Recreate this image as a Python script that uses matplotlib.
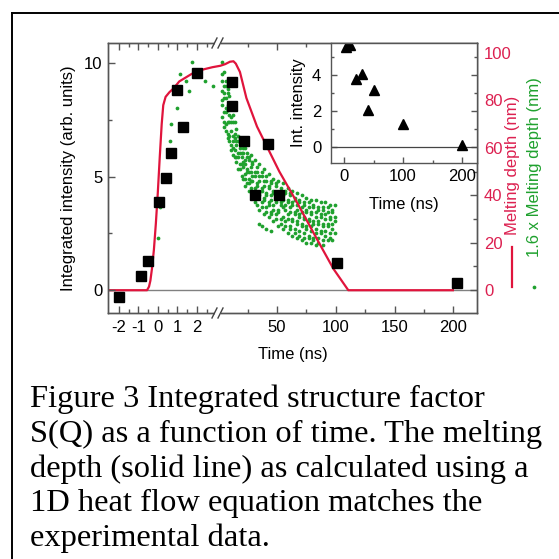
import numpy as np
import matplotlib
matplotlib.use("Agg")
import matplotlib.pyplot as plt
from matplotlib.lines import Line2D
from matplotlib.patches import Rectangle

plt.rcParams['font.family'] = ['Liberation Sans', 'DejaVu Sans']

# ---------------- data ----------------
sq_time = [-2.0, -0.85, -0.5, 0.05, 0.4, 0.7, 1.0, 1.3, 2.0, 12, 12, 22, 31, 42, 52, 101, 203]
sq_int = [-0.28, 0.63, 1.29, 3.87, 4.94, 6.04, 8.82, 7.18, 9.55, 9.18, 8.11, 6.58, 4.21, 6.43, 4.21, 1.18, 0.34]

melt_time = [-2.55, -0.55, -0.45, -0.38, -0.3, -0.2, -0.1, 0.0, 0.1, 0.2, 0.28, 0.4, 0.6, 0.8,
             1.1, 1.4, 1.7, 2.0, 2.4, 2.8, 3.2, 6, 10, 13, 15, 18.5, 24, 33, 41, 52, 67, 84, 98, 110.6, 199.5]
melt_depth = [0, 0, 1.5, 4, 9, 17, 28, 41, 56, 70, 78, 81.5, 83.5, 85,
              88, 89.5, 91, 92.3, 93.2, 94, 94.6, 95.3, 96.3, 96.5, 95.5, 92, 81, 69, 61, 50, 37, 21.5, 9, 0, 0]

green_left_t = [0.0, 0.1, 0.65, 0.7, 1.0, 1.13, 1.47, 1.6, 1.75, 2.4, 2.85]
green_left_v = [22, 35, 63, 70, 77, 91, 88, 84, 96, 88, 86]

green_cols_t = [3.5, 5, 6.5, 8, 9.5, 11, 12.5, 14, 15.5, 17, 18.5, 20, 21.5, 23, 24.5, 26, 27.5, 29,
                31, 33, 35, 37, 39, 41, 43, 45, 47, 49, 51, 53, 55, 57, 59, 61, 63, 65, 67, 69,
                71, 73, 75, 77, 79, 81, 83, 85, 87, 89, 91, 93, 95, 97, 99]
green_cols_v = [
    [96, 91, 88, 84, 80, 78, 73],
    [92, 86, 83, 81, 75, 71, 69],
    [88, 86, 81, 77, 75, 70, 67],
    [85, 83, 78, 76, 71, 66, 64],
    [82, 77, 74, 71, 65, 63],
    [78, 73, 71, 67, 61, 59],
    [74, 71, 65, 63, 60, 57],
    [71, 66, 64, 59, 56],
    [68, 63, 61, 56, 54],
    [65, 63, 58, 56, 51],
    [64, 60, 58, 53, 51],
    [63, 58, 56, 53, 48],
    [60, 58, 54, 52, 47],
    [60, 55, 53, 49, 47, 44],
    [58, 56, 51, 50, 45],
    [56, 55, 50, 47, 45, 42],
    [57, 52, 50, 46, 43],
    [54, 53, 48, 46, 41, 39],
    [55, 50, 48, 43, 42, 37],
    [52, 50, 45, 44, 39, 36],
    [53, 48, 46, 41, 40, 34, 28],
    [50, 48, 43, 42, 37, 35, 27],
    [51, 46, 44, 39, 38, 32],
    [48, 46, 41, 40, 35, 33, 26],
    [49, 44, 43, 37, 36, 31],
    [46, 45, 40, 38, 33, 32, 25],
    [47, 42, 41, 36, 34, 29],
    [45, 44, 38, 37, 32, 30],
    [46, 41, 40, 34, 33, 27],
    [43, 42, 37, 36, 30, 28],
    [45, 40, 38, 35, 31, 26],
    [42, 41, 36, 34, 29, 27],
    [43, 38, 37, 32, 30, 24],
    [41, 40, 35, 33, 27, 26],
    [42, 37, 36, 30, 29, 23],
    [39, 38, 33, 32, 26, 24],
    [41, 36, 34, 29, 28, 22],
    [38, 37, 32, 31, 25, 23],
    [40, 35, 33, 28, 27, 21],
    [37, 36, 31, 30, 24, 22],
    [39, 34, 33, 27, 26, 20],
    [37, 35, 30, 29, 23, 22],
    [38, 33, 32, 27, 25, 20],
    [36, 35, 29, 28, 22, 21],
    [38, 33, 31, 26, 24, 19],
    [35, 34, 29, 28, 22, 20],
    [37, 32, 31, 25, 24],
    [35, 34, 28, 27, 21, 19],
    [37, 32, 30, 25, 23],
    [35, 33, 28, 27, 21],
    [36, 31, 30, 24, 22],
    [34, 33, 28, 26, 21],
    [36, 31, 29, 24],
]

inset_time = [3, 10, 20, 30, 40, 50, 100, 200]
inset_int = [5.55, 5.68, 3.78, 4.06, 2.05, 3.17, 1.25, 0.08]

x_major = [-2, -1, 0, 1, 2, 50, 100, 150, 200]
x_minor = [-1.5, -0.5, 0.5, 1.5, 2.5, 25, 75, 125, 175]

caption_lines = [
    "Figure 3 Integrated structure factor",
    "S(Q) as a function of time. The melting",
    "depth (solid line) as calculated using a",
    "1D heat flow equation matches the",
    "experimental data.",
]

# ---------------- styling ----------------
W = H = 559
RED = '#e0143c'
RED_TXT = '#dc2050'
GREEN = '#1fa12e'
SPINE = '#555555'

fig = plt.figure(figsize=(5.59, 5.59), dpi=100)


def rect(l, t, r, b):
    return [l / W, 1 - b / H, (r - l) / W, (b - t) / H]


# broken time axis: linear pieces (-2..3.3 ns stretched, >3.3 ns compressed)
A = 19.5
B0, BK = 60.3, 1.175
TB = B0 / (A - BK)


def fwd(t):
    t = np.asarray(t, dtype=float)
    return np.where(t < TB, A * t, B0 + BK * t)


def inv(u):
    u = np.asarray(u, dtype=float)
    return np.where(u < A * TB, u / A, (u - B0) / BK)


ax = fig.add_axes(rect(108, 43, 477, 313))
ax2 = ax.twinx()
ax.set_zorder(2)
ax.patch.set_visible(False)
ax2.set_zorder(1)

ax.set_xscale('function', functions=(fwd, inv))
ax.set_xlim(-2.55, 220)
ax.set_ylim(-1.0, 10.88)
ax2.set_ylim(-9.6, 104.2)

ax.set_xticks(x_major)
ax.set_xticklabels([str(v) for v in x_major])
ax.set_xticks(x_minor, minor=True)
ax.set_yticks([0, 5, 10])
ax.set_yticks([2.5, 7.5], minor=True)
ax2.set_yticks([0, 20, 40, 60, 80, 100])
ax2.set_yticks([10, 30, 50, 70, 90], minor=True)

for a in (ax, ax2):
    for s in a.spines.values():
        s.set_color(SPINE)
        s.set_linewidth(1.0)

ax.tick_params(axis='both', which='both', direction='in', top=True, right=False,
               labelsize=12, color=SPINE, width=1.0)
ax.tick_params(which='major', length=5)
ax.tick_params(which='minor', length=3)
ax.tick_params(axis='x', pad=5)
ax.tick_params(axis='y', pad=4)
ax2.tick_params(axis='y', which='both', direction='in', left=False, right=True,
                labelsize=12, labelcolor=RED_TXT, color=SPINE, width=1.0, pad=5)
ax2.tick_params(which='major', length=5)
ax2.tick_params(which='minor', length=3)

# zero line and melting depth curve on the right (nm) axis
ax2.axhline(0, color='#808080', lw=1.0, zorder=1)
ax2.plot(melt_time, melt_depth, color=RED, lw=1.6, zorder=3)

green_t = list(green_left_t)
green_v = list(green_left_v)
for t, col in zip(green_cols_t, green_cols_v):
    green_t += [t] * len(col)
    green_v += col
ax2.plot(green_t, green_v, ls='none', marker='o', ms=2.7, mfc=GREEN, mec='none', zorder=2)

# integrated intensity squares on the left axis
ax.plot(sq_time, sq_int, ls='none', marker='s', ms=6.5, color='black', zorder=4)

ax.set_xlabel('Time (ns)', fontsize=12, labelpad=9)
ax.set_ylabel('Integrated intensity (arb. units)', fontsize=12, labelpad=6)

# axis break marks
for yb in (313, 43):
    xb = 218
    fig.add_artist(Rectangle(((xb - 3) / W, 1 - (yb + 2) / H), 6 / W, 4 / H,
                             transform=fig.transFigure, facecolor='white', edgecolor='none', zorder=5))
    for dx in (-3.5, 2.5):
        fig.add_artist(Line2D([(xb + dx - 2.5) / W, (xb + dx + 2.5) / W],
                              [1 - (yb + 5) / H, 1 - (yb - 5) / H],
                              transform=fig.transFigure, color='#444444', lw=1.0, zorder=6))

# right-hand legend-style labels
fig.add_artist(Line2D([512 / W, 512 / W], [1 - 287 / H, 1 - 247 / H],
                      transform=fig.transFigure, color=RED, lw=1.6))
fig.text(513 / W, 1 - 165 / H, 'Melting depth (nm)', rotation=90, color=RED_TXT,
         fontsize=12, ha='center', va='center')
fig.add_artist(Line2D([534 / W], [1 - 287 / H], transform=fig.transFigure,
                      marker='o', ms=2.7, mfc=GREEN, mec='none', ls='none'))
fig.text(535 / W, 1 - 167 / H, '1.6 x Melting depth (nm)', rotation=90, color=GREEN,
         fontsize=12, ha='center', va='center')

# inset
axi = fig.add_axes(rect(331, 43, 477, 163))
axi.set_zorder(3)
axi.set_facecolor('white')
axi.set_xlim(-22, 225)
axi.set_ylim(-0.9, 5.8)
axi.axhline(0, color='#444444', lw=0.9)
axi.plot(inset_time, inset_int, ls='none', marker='^', ms=7, color='black', clip_on=True)
axi.set_xticks([0, 100, 200])
axi.set_xticks([50, 150], minor=True)
axi.set_yticks([0, 2, 4])
axi.set_yticks([1, 3, 5], minor=True)
for s in axi.spines.values():
    s.set_color(SPINE)
    s.set_linewidth(1.0)
axi.tick_params(axis='both', which='both', direction='in', labelsize=12, color=SPINE,
                right=True, width=1.0)
axi.tick_params(which='major', length=4)
axi.tick_params(which='minor', length=2.5)
axi.tick_params(axis='y', pad=7)
axi.tick_params(axis='x', pad=4)
axi.set_xlabel('Time (ns)', fontsize=12, labelpad=10)
axi.set_ylabel('Int. intensity', fontsize=12, labelpad=4)

# caption
for i, line in enumerate(caption_lines):
    fig.text(30 / W, 1 - (407 + 34.8 * i) / H, line, fontsize=23.4,
             family=['Liberation Serif', 'DejaVu Serif'], ha='left', va='baseline')

# frame lines (left and top)
fig.add_artist(Line2D([12 / W, 12 / W], [0, 1 - 13 / H], transform=fig.transFigure,
                      color='black', lw=1.4))
fig.add_artist(Line2D([12 / W, 1], [1 - 13 / H, 1 - 13 / H], transform=fig.transFigure,
                      color='black', lw=1.4))

fig.savefig('out.png', dpi=100, facecolor='white')
